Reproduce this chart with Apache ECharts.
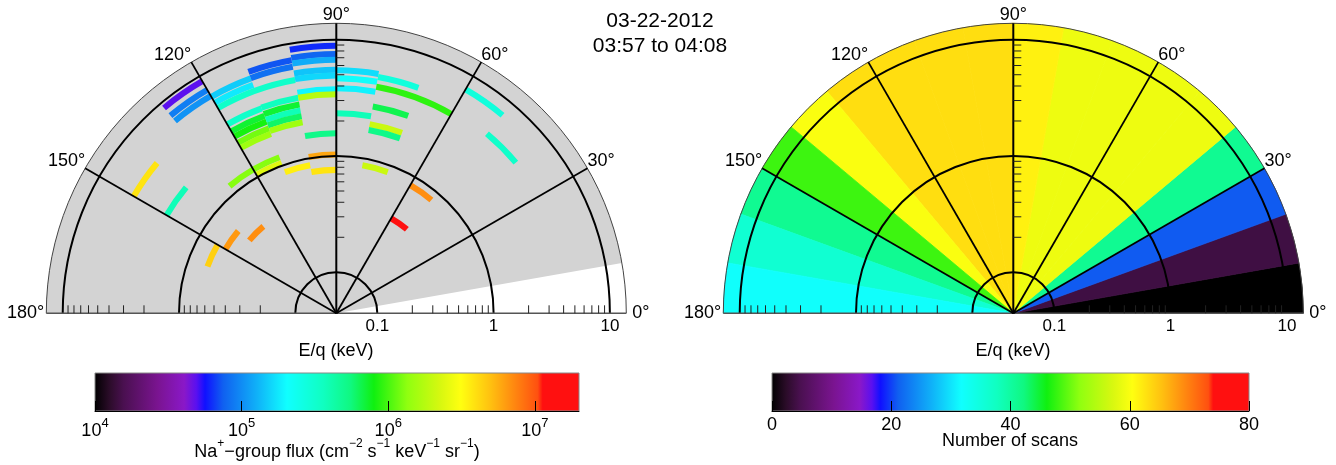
<!DOCTYPE html>
<html>
<head>
<meta charset="utf-8">
<script src="https://cdn.jsdelivr.net/npm/echarts@6/dist/echarts.min.js"></script>
<style>
html,body{margin:0;padding:0;background:#fff;}
#chart{width:1336px;height:465px;}
</style>
</head>
<body>
<div id="chart"></div>
<script>
// ---------------- data ----------------
const E_MIN = 0.0444;          // E/q at the plot centre (keV)
const E_MAX = 13.84;           // E/q at the outer edge (keV)
const energyLabels = [0.1, 1, 10];
const minorTicks = [0.2, 0.3, 0.4, 0.5, 0.6, 0.7, 0.8, 0.9, 2, 3, 4, 5, 6, 7, 8, 9];
const spokeAngles = [30, 60, 90, 120, 150];
const angleLabels = [0, 30, 60, 90, 120, 150, 180];
const coverage = [10, 180];    // field-of-view coverage (grey) in degrees

// left panel: [angle from, angle to, E/q (keV), Na+-group flux]
const fluxArcs = [
  [120, 130, 8.95, 4.9e4], [120, 130, 7.34, 9.1e4], [120, 130, 6.39, 1.05e5],
  [110, 120, 6.26, 1.5e5], [110, 120, 5.46, 1.8e5], [100, 120, 4.84, 3.3e5],
  [110, 120, 3.33, 3.3e5], [110, 120, 2.84, 7.1e5], [110, 120, 2.52, 8.2e5],
  [110, 120, 2.19, 1.2e6], [110, 120, 1.95, 1.5e6], [110, 130, 1.19, 1.3e6],
  [110, 120, 1.05, 2.4e6],
  [100, 110, 7.2, 7.2e4], [100, 110, 6.3, 8.4e4], [100, 110, 3.39, 3.6e5],
  [100, 110, 2.95, 7.1e5], [100, 110, 2.62, 3.8e5], [100, 110, 2.33, 6.0e5],
  [100, 110, 2.07, 1.5e6], [100, 110, 0.87, 3.5e6],
  [90, 100, 8.88, 6.2e4], [90, 100, 7.54, 7.8e4], [90, 100, 6.73, 1.23e5],
  [90, 100, 5.52, 1.43e5], [90, 100, 4.92, 1.6e5], [90, 100, 3.75, 1.94e5],
  [90, 100, 3.39, 1.76e6], [90, 100, 1.57, 5.2e5], [90, 100, 1.03, 5.9e6],
  [90, 100, 0.76, 3.8e6],
  [80, 90, 5.46, 1.66e5], [80, 90, 4.66, 2.1e5], [80, 90, 3.82, 1.9e5],
  [80, 90, 2.33, 3.8e5],
  [70, 80, 5.14, 2.8e5], [60, 80, 4.22, 9.0e5], [70, 80, 2.84, 6.5e5],
  [70, 80, 1.99, 2.05e6], [70, 80, 1.77, 5.2e5], [70, 80, 0.87, 2.05e6],
  [50, 60, 7.43, 2.8e5], [50, 60, 0.83, 6.9e6], [50, 60, 0.39, 1.48e7],
  [40, 50, 4.6, 3.3e5],
  [140, 150, 4.56, 3.8e6], [140, 150, 2.15, 3.8e5], [150, 160, 0.67, 4.4e6],
  [140, 150, 0.56, 6.4e6], [130, 140, 0.42, 6.9e6]
];
const BIN_HALF_LOG = 0.026;    // half width of an energy bin (decades)

// right panel: number of scans per 10 degree sector
const scanAngleFrom = [0, 10, 20, 30, 40, 50, 60, 70, 80, 90, 100, 110, 120, 130, 140, 150, 160, 170];
const scanCounts    = [0, 4, 21, 41, 59, 59, 59, 59, 61.5, 63, 63, 63, 63, 60, 48, 41, 36, 32];
const SCAN_WIDTH = 10;

// colour bars
const FLUX_MIN = 1e4, FLUX_MAX = 2e7;
const SCAN_MIN = 0, SCAN_MAX = 80;
const cmapStops  = [0, 0.03, 0.06, 0.13, 0.185, 0.21, 0.228, 0.265, 0.334, 0.397, 0.472, 0.528, 0.576, 0.645, 0.714, 0.755, 0.817, 0.872, 0.914, 0.924, 1];
const cmapColors = ['#000000', '#2a0c28', '#4a1050', '#7a1490', '#8a18c8', '#5a10f0', '#1010ff', '#1060f0', '#10b0f8', '#10ffff', '#10ffc0', '#10f880', '#10f010', '#90ff10', '#d8f810', '#ffff10', '#ffc010', '#ff8010', '#ff5010', '#ff1010', '#ff1010'];

// ---------------- helpers ----------------
const FONT = '"Liberation Sans", Arial, Helvetica, sans-serif';
function hex2rgb(h) { return [parseInt(h.slice(1, 3), 16), parseInt(h.slice(3, 5), 16), parseInt(h.slice(5, 7), 16)]; }
function cmap(f) {
  f = Math.max(0, Math.min(1, f));
  for (let i = 1; i < cmapStops.length; i++) {
    if (f <= cmapStops[i]) {
      const t = (f - cmapStops[i - 1]) / ((cmapStops[i] - cmapStops[i - 1]) || 1);
      const a = hex2rgb(cmapColors[i - 1]), b = hex2rgb(cmapColors[i]);
      return 'rgb(' + a.map((v, k) => Math.round(v + (b[k] - v) * t)).join(',') + ')';
    }
  }
  return cmapColors[cmapColors.length - 1];
}
const fluxColor = v => cmap((Math.log10(v) - Math.log10(FLUX_MIN)) / (Math.log10(FLUX_MAX) - Math.log10(FLUX_MIN)));
const scanColor = v => cmap((v - SCAN_MIN) / (SCAN_MAX - SCAN_MIN));

function sector(cs, api, eLo, eHi, aLo, aHi, fill, seam) {
  const pIn = api.coord([eLo, aLo]);
  const pOut = api.coord([eHi, aHi]);
  return {
    type: 'sector',
    shape: { cx: cs.cx, cy: cs.cy, r0: pIn[2], r: pOut[2], startAngle: -pOut[3], endAngle: -pIn[3], clockwise: true },
    style: { fill: fill, stroke: seam ? fill : null, lineWidth: seam ? 0.8 : 0 }
  };
}
function txt(x, y, text, align, vAlign, size) {
  return { type: 'text', x: x, y: y, style: { text: text, fill: '#000', font: size + 'px ' + FONT, align: align, verticalAlign: vAlign, textAlign: align, textVerticalAlign: vAlign } };
}

function frameSeries(pi) {
  const base = { type: 'custom', coordinateSystem: 'polar', polarIndex: pi, silent: true };
  return [
    // energy rings
    Object.assign({}, base, {
      z: 5, data: energyLabels.map(e => [e, 0]),
      renderItem: (params, api) => {
        const cs = params.coordSys, p = api.coord([api.value(0), 0]);
        return { type: 'arc', shape: { cx: cs.cx, cy: cs.cy, r: p[2], startAngle: Math.PI, endAngle: 2 * Math.PI, clockwise: true }, style: { stroke: '#000', lineWidth: 2, fill: 'none' } };
      }
    }),
    // outer edge + baseline
    Object.assign({}, base, {
      z: 5, data: [[E_MAX, 0]],
      renderItem: (params, api) => {
        const cs = params.coordSys, p0 = api.coord([E_MAX, 0]), p1 = api.coord([E_MAX, 180]);
        return { type: 'group', children: [
          { type: 'arc', shape: { cx: cs.cx, cy: cs.cy, r: p0[2], startAngle: Math.PI, endAngle: 2 * Math.PI, clockwise: true }, style: { stroke: '#444', lineWidth: 1, fill: 'none' } },
          { type: 'line', shape: { x1: p1[0], y1: p1[1], x2: p0[0], y2: p0[1] }, style: { stroke: '#555', lineWidth: 1.5 } }
        ] };
      }
    }),
    // spokes
    Object.assign({}, base, {
      z: 5, data: spokeAngles.map(a => [E_MAX, a]),
      renderItem: (params, api) => {
        const cs = params.coordSys, p = api.coord([E_MAX, api.value(1)]);
        return { type: 'line', shape: { x1: cs.cx, y1: cs.cy, x2: p[0], y2: p[1] }, style: { stroke: '#000', lineWidth: api.value(1) === 90 ? 2 : 1.8 } };
      }
    }),
    // minor ticks on 0, 90, 180 degree axes
    Object.assign({}, base, {
      z: 5, data: minorTicks.map(e => [e, 0]),
      renderItem: (params, api) => {
        const e = api.value(0);
        const pr = api.coord([e, 0]), pl = api.coord([e, 180]), pu = api.coord([e, 90]);
        const st = { stroke: '#222', lineWidth: 1 };
        return { type: 'group', children: [
          { type: 'line', shape: { x1: pr[0], y1: pr[1], x2: pr[0], y2: pr[1] - 8 }, style: st },
          { type: 'line', shape: { x1: pl[0], y1: pl[1], x2: pl[0], y2: pl[1] - 8 }, style: st },
          { type: 'line', shape: { x1: pu[0], y1: pu[1], x2: pu[0] + 8, y2: pu[1] }, style: st }
        ] };
      }
    }),
    // angle labels
    Object.assign({}, base, {
      z: 6, data: angleLabels.map(a => [E_MAX, a]),
      renderItem: (params, api) => {
        const a = api.value(1), p = api.coord([E_MAX, a]);
        const t = a + '°';
        if (a === 0) return txt(p[0] + 6, p[1], t, 'left', 'middle', 18);
        if (a === 180) return txt(p[0] - 2, p[1], t, 'right', 'middle', 18);
        if (a === 90) return txt(p[0], p[1] - 8.5, t, 'center', 'middle', 18);
        return txt(p[0], p[1] - 7, t, a < 90 ? 'left' : 'right', 'middle', 18);
      }
    }),
    // energy tick labels
    Object.assign({}, base, {
      z: 6, data: energyLabels.map(e => [e, 0]),
      renderItem: (params, api) => {
        const e = api.value(0), p = api.coord([e, 0]);
        return txt(p[0], p[1] + 13, String(e), 'center', 'middle', 17);
      }
    })
  ];
}

const chart = echarts.init(document.getElementById('chart'));
const sup = { fontSize: 12, verticalAlign: 'top', fontFamily: FONT, fill: '#000', color: '#000' };
const gradStops = cmapStops.map((s, i) => ({ offset: s, color: cmapColors[i] }));

const option = {
  animation: false,
  backgroundColor: '#fff',
  polar: [
    { center: [336.3, 313.3], radius: [0, 290] },
    { center: [1013.3, 313.3], radius: [0, 290] }
  ],
  angleAxis: [
    { polarIndex: 0, type: 'value', min: 0, max: 360, startAngle: 0, clockwise: false, show: false },
    { polarIndex: 1, type: 'value', min: 0, max: 360, startAngle: 0, clockwise: false, show: false }
  ],
  radiusAxis: [
    { polarIndex: 0, type: 'log', logBase: 10, min: E_MIN, max: E_MAX, show: false },
    { polarIndex: 1, type: 'log', logBase: 10, min: E_MIN, max: E_MAX, show: false }
  ],
  grid: [
    { left: 95, top: 373, width: 484, height: 38 },
    { left: 772, top: 373, width: 477, height: 38 }
  ],
  xAxis: [
    { gridIndex: 0, type: 'log', logBase: 10, min: FLUX_MIN, max: FLUX_MAX, z: 10,
      axisLine: { show: true, lineStyle: { color: '#000', width: 1 } },
      axisTick: { show: true, inside: true, length: 10, lineStyle: { color: '#000', width: 1 } },
      splitLine: { show: false }, minorTick: { show: false },
      axisLabel: { show: true, showMaxLabel: false, margin: 6, color: '#000', fontSize: 18, fontFamily: FONT, lineHeight: 28,
        formatter: v => '10{sup|' + Math.round(Math.log10(v)) + '}', rich: { sup: { fontSize: 13, verticalAlign: 'top', fontFamily: FONT, color: '#000' } } } },
    { gridIndex: 1, type: 'value', min: SCAN_MIN, max: SCAN_MAX, interval: 20, z: 10,
      axisLine: { show: true, lineStyle: { color: '#000', width: 1 } },
      axisTick: { show: true, inside: true, length: 10, lineStyle: { color: '#000', width: 1 } },
      splitLine: { show: false },
      axisLabel: { show: true, margin: 5, color: '#000', fontSize: 18, fontFamily: FONT } }
  ],
  yAxis: [
    { gridIndex: 0, type: 'value', min: 0, max: 1, show: false },
    { gridIndex: 1, type: 'value', min: 0, max: 1, show: false }
  ],
  series: [
    // grey coverage
    { type: 'custom', coordinateSystem: 'polar', polarIndex: 0, silent: true, z: 1,
      data: [[E_MIN, coverage[0], coverage[1]]],
      renderItem: (params, api) => sector(params.coordSys, api, E_MIN, E_MAX, api.value(1), api.value(2), '#d3d3d3', false) },
    // flux arcs
    { type: 'custom', coordinateSystem: 'polar', polarIndex: 0, silent: true, z: 2,
      data: fluxArcs.map(r => [r[2], r[0], r[1], r[3]]),
      renderItem: (params, api) => {
        const e = api.value(0), f = Math.pow(10, BIN_HALF_LOG);
        return sector(params.coordSys, api, e / f, e * f, api.value(1), api.value(2), fluxColor(api.value(3)), false);
      } },
    // scan sectors
    { type: 'custom', coordinateSystem: 'polar', polarIndex: 1, silent: true, z: 1,
      data: scanAngleFrom.map((a, i) => [E_MIN, a, a + SCAN_WIDTH, scanCounts[i]]),
      renderItem: (params, api) => sector(params.coordSys, api, E_MIN, E_MAX, api.value(1), api.value(2), scanColor(api.value(3)), true) },
    ...frameSeries(0),
    ...frameSeries(1),
    // colour bars
    { type: 'custom', xAxisIndex: 0, yAxisIndex: 0, silent: true, z: 0,
      data: [[FLUX_MIN, 0, FLUX_MAX, 1]],
      renderItem: (params, api) => {
        const p0 = api.coord([api.value(0), api.value(1)]), p1 = api.coord([api.value(2), api.value(3)]);
        return { type: 'rect', shape: { x: p0[0], y: p1[1], width: p1[0] - p0[0], height: p0[1] - p1[1] },
          style: { fill: new echarts.graphic.LinearGradient(0, 0, 1, 0, gradStops), stroke: '#888', lineWidth: 1 } };
      } },
    { type: 'custom', xAxisIndex: 1, yAxisIndex: 1, silent: true, z: 0,
      data: [[SCAN_MIN, 0, SCAN_MAX, 1]],
      renderItem: (params, api) => {
        const p0 = api.coord([api.value(0), api.value(1)]), p1 = api.coord([api.value(2), api.value(3)]);
        return { type: 'rect', shape: { x: p0[0], y: p1[1], width: p1[0] - p0[0], height: p0[1] - p1[1] },
          style: { fill: new echarts.graphic.LinearGradient(0, 0, 1, 0, gradStops), stroke: '#888', lineWidth: 1 } };
      } }
  ],
  graphic: [
    { type: 'text', x: 660, y: 21, style: { text: '03-22-2012', fill: '#000', font: '21px ' + FONT, align: 'center', verticalAlign: 'middle', textAlign: 'center', textVerticalAlign: 'middle' } },
    { type: 'text', x: 660, y: 46, style: { text: '03:57 to 04:08', fill: '#000', font: '21px ' + FONT, align: 'center', verticalAlign: 'middle', textAlign: 'center', textVerticalAlign: 'middle' } },
    { type: 'text', x: 336, y: 351, style: { text: 'E/q (keV)', fill: '#000', font: '18px ' + FONT, align: 'center', verticalAlign: 'middle', textAlign: 'center', textVerticalAlign: 'middle' } },
    { type: 'text', x: 1013, y: 351, style: { text: 'E/q (keV)', fill: '#000', font: '18px ' + FONT, align: 'center', verticalAlign: 'middle', textAlign: 'center', textVerticalAlign: 'middle' } },
    { type: 'text', x: 337, y: 452, style: { text: 'Na{sup|+}−group flux (cm{sup|−2} s{sup|−1} keV{sup|−1} sr{sup|−1})', fill: '#000', fontSize: 18, fontFamily: FONT, lineHeight: 28, rich: { sup: sup }, align: 'center', verticalAlign: 'middle', textAlign: 'center', textVerticalAlign: 'middle' } },
    { type: 'text', x: 1010, y: 441, style: { text: 'Number of scans', fill: '#000', font: '18px ' + FONT, align: 'center', verticalAlign: 'middle', textAlign: 'center', textVerticalAlign: 'middle' } }
  ]
};
chart.setOption(option);
</script>
</body>
</html>
